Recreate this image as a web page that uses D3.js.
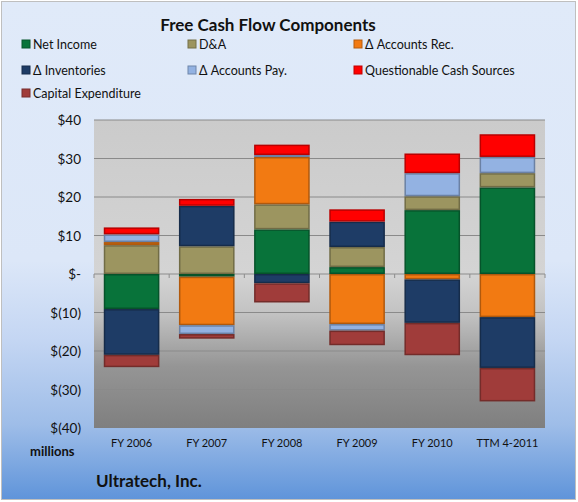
<!DOCTYPE html>
<html>
<head>
<meta charset="utf-8">
<script src="https://cdn.jsdelivr.net/npm/d3@7/dist/d3.min.js"></script>
<style>
  body { margin: 0; background: #fff; }
  svg { display: block; font-family: Lato, "Open Sans", sans-serif; }
</style>
</head>
<body>
<svg id="chart" width="578" height="502"></svg>
<script>
// categories and series (millions of dollars)
const years = ["FY 2006", "FY 2007", "FY 2008", "FY 2009", "FY 2010", "TTM 4-2011"];
const seriesNames = ["Net Income", "D&A", "\u0394 Accounts Rec.", "\u0394 Inventories",
                     "\u0394 Accounts Pay.", "Questionable Cash Sources", "Capital Expenditure"];
const netIncome   = [-9.1, -0.7, 11.6, 1.8, 16.6, 22.5];
const dna         = [7.5, 7.2, 6.5, 5.2, 3.6, 3.7];
const accountsRec = [0.8, -12.6, 12.3, -13.0, -1.4, -11.2];
const inventories = [-11.9, 10.5, -2.4, 6.6, -11.3, -13.2];
const accountsPay = [2.0, -2.3, 0.5, -1.7, 6.0, 4.2];
const questionable = [1.8, 1.8, 2.7, 3.2, 5.1, 5.9];
const capex       = [-3.2, -1.2, -5.0, -3.8, -8.4, -8.7];
const yTicks = [40, 30, 20, 10, 0, -10, -20, -30, -40];
const colors = ["#08733a", "#9c9560", "#f27a12", "#1e3c66", "#93b2e2", "#ff0000", "#a03c3a"];

const svg = d3.select("#chart"),
    width = +svg.attr("width"),
    height = +svg.attr("height");

const margin = {top: 120, right: 33, bottom: 74, left: 94};

const defs = svg.append("defs");
let bg = defs.append("linearGradient").attr("id", "bg").attr("x1", 0).attr("y1", 0).attr("x2", 0).attr("y2", 1);
bg.append("stop").attr("offset", "0%").attr("stop-color", "#e0eaf9");
bg.append("stop").attr("offset", "52%").attr("stop-color", "#dce7f8");
bg.append("stop").attr("offset", "68%").attr("stop-color", "#c4d6f3");
bg.append("stop").attr("offset", "85%").attr("stop-color", "#9ebde8");
bg.append("stop").attr("offset", "100%").attr("stop-color", "#5f94da");

let pg = defs.append("linearGradient").attr("id", "plotbg").attr("x1", 0).attr("y1", 0).attr("x2", 0).attr("y2", 1);
pg.append("stop").attr("offset", "0%").attr("stop-color", "#cbcbcb");
pg.append("stop").attr("offset", "50%").attr("stop-color", "#d4d4d4");
pg.append("stop").attr("offset", "63%").attr("stop-color", "#c2c2c2");
pg.append("stop").attr("offset", "80%").attr("stop-color", "#959595");
pg.append("stop").attr("offset", "100%").attr("stop-color", "#7f7f7f");

svg.append("rect")
    .attr("x", 1.5).attr("y", 1.5)
    .attr("width", width - 4).attr("height", height - 4)
    .attr("fill", "url(#bg)")
    .attr("stroke", "#bfbfbf");

svg.append("text")
    .attr("x", 268).attr("y", 31)
    .attr("text-anchor", "middle")
    .attr("font-size", 17).attr("font-weight", "bold")
    .attr("fill", "#111")
    .text("Free Cash Flow Components");

// legend
const legendPos = [[22, 44], [188, 44], [354, 44], [22, 70], [188, 70], [354, 70], [22, 93]];
let legend = svg.append("g").selectAll("g").data(seriesNames).enter().append("g")
    .attr("transform", (d, i) => "translate(" + legendPos[i][0] + "," + legendPos[i][1] + ")");
legend.append("rect")
    .attr("x", 0).attr("y", -4).attr("width", 8).attr("height", 8)
    .attr("fill", (d, i) => colors[i])
    .attr("stroke", (d, i) => d3.color(colors[i]).darker(0.8));
legend.append("text")
    .attr("x", 11).attr("y", 4.5)
    .attr("font-size", 12.5).attr("fill", "#111")
    .text(d => d);

// data table
const allSeries = [netIncome, dna, accountsRec, inventories, accountsPay, questionable, capex];
const table = years.map((y, j) => {
    let row = {year: y};
    seriesNames.forEach((s, i) => { row[s] = allSeries[i][j]; });
    return row;
});
const stacked = d3.stack().keys(seriesNames).offset(d3.stackOffsetDiverging)(table);

const x = d3.scaleBand().domain(years)
    .range([margin.left, width - margin.right])
    .paddingInner(0.26).paddingOuter(0.13);
const y = d3.scaleLinear().domain([-40, 40])
    .range([height - margin.bottom, margin.top]);

svg.append("rect")
    .attr("x", margin.left).attr("y", margin.top)
    .attr("width", width - margin.left - margin.right)
    .attr("height", height - margin.top - margin.bottom)
    .attr("fill", "url(#plotbg)");

// gridlines
svg.append("g").selectAll("line").data(yTicks.filter(t => t !== -40)).enter().append("line")
    .attr("x1", margin.left).attr("x2", width - margin.right)
    .attr("y1", d => y(d)).attr("y2", d => y(d))
    .attr("stroke", d => d === 0 ? "#8c8c8c" : "#8a8a8a")
    .attr("stroke-width", 1);

// y axis labels
const fmt = d => d === 0 ? "$-" : (d < 0 ? "$(" + (-d) + ")" : "$" + d);
svg.append("g").selectAll("text").data(yTicks).enter().append("text")
    .attr("x", 81).attr("y", d => y(d) + 5)
    .attr("text-anchor", "end")
    .attr("font-size", 13.5).attr("fill", "#111")
    .text(fmt);

// category ticks on zero line
const step = x.step();
svg.append("g").selectAll("line").data(d3.range(years.length + 1)).enter().append("line")
    .attr("x1", i => margin.left + i * step).attr("x2", i => margin.left + i * step)
    .attr("y1", y(0)).attr("y2", y(0) + 4)
    .attr("stroke", "#8c8c8c");

// bars
let layers = svg.append("g").selectAll("g").data(stacked).enter().append("g")
    .attr("fill", (d, i) => colors[i])
    .attr("stroke", (d, i) => d3.color(colors[i]).darker(0.9));
layers.selectAll("rect").data(d => d.filter(p => p[1] - p[0] !== 0)).enter().append("rect")
    .attr("x", d => x(d.data.year) + 0.75)
    .attr("width", x.bandwidth() - 1.5)
    .attr("y", d => y(Math.max(d[0], d[1])) + 0.75)
    .attr("height", d => Math.max(0.5, Math.abs(y(d[0]) - y(d[1])) - 1.5))
    .attr("stroke-width", 1.5);

// x labels
svg.append("g").selectAll("text").data(years).enter().append("text")
    .attr("x", d => x(d) + x.bandwidth() / 2)
    .attr("y", 447)
    .attr("text-anchor", "middle")
    .attr("font-size", 11).attr("fill", "#111")
    .text(d => d);

svg.append("text")
    .attr("x", 30).attr("y", 456)
    .attr("font-size", 13).attr("font-weight", "bold").attr("fill", "#111")
    .text("millions");

svg.append("text")
    .attr("x", 96).attr("y", 487)
    .attr("font-size", 17).attr("font-weight", "bold").attr("fill", "#111")
    .text("Ultratech, Inc.");
</script>
</body>
</html>
